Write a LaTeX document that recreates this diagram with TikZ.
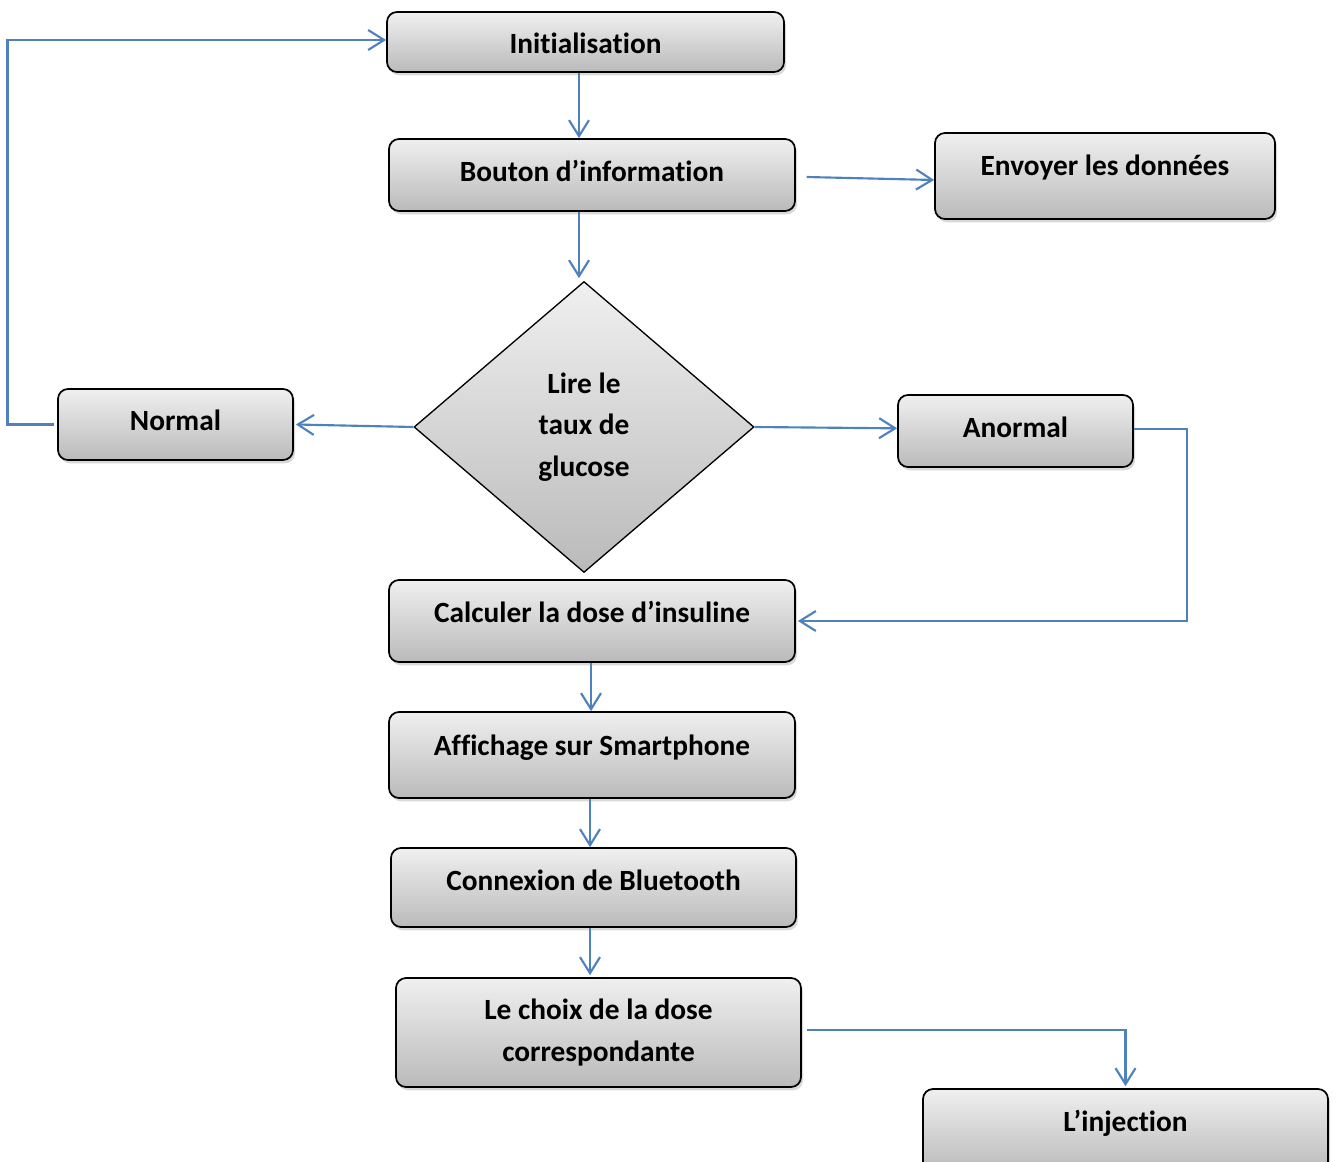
\documentclass[tikz,border=0pt]{standalone}
\usepackage{fontspec}
\setmainfont[Ligatures=NoCommon]{Carlito}
\usetikzlibrary{shapes.geometric,arrows.meta,shadows}
\definecolor{lineblue}{HTML}{4F81BD}
\tikzset{
  box/.style={draw=black, line width=1.3pt, rounded corners=7.5pt,
    top color=black!6, bottom color=black!27,
    drop shadow={shadow xshift=1.5pt, shadow yshift=-2.5pt, opacity=0.3},
    font=\bfseries\fontsize{22}{31}\selectfont, inner sep=0pt,
    text height=18pt, text depth=4.2pt},
  mbox/.style={box, text height=, text depth=, align=center},
  dec/.style={draw=black, line width=1pt, shape=diamond,
    top color=black!6, bottom color=black!27, inner sep=0pt, align=center,
    font=\bfseries\fontsize{22}{31}\selectfont},
  link/.style={draw=lineblue, line width=1.6pt},
  arr/.style={link, -{Straight Barb[length=12pt,width=15pt,line width=1.6pt]}},
}
\begin{document}
\begin{tikzpicture}[x=0.75pt,y=-0.75pt]
\useasboundingbox (0,0) rectangle (1337,1162);

\node[box, minimum width=397*0.75pt, minimum height=60*0.75pt, text depth=1pt] (init) at (585.5,42) {Initialisation};
\node[box, minimum width=406*0.75pt, minimum height=72*0.75pt, text depth=8pt] (bouton) at (592,175) {Bouton d’information};
\node[box, minimum width=340*0.75pt, minimum height=86*0.75pt, text depth=19.2pt] (envoyer) at (1105,176) {Envoyer les données};
\node[dec, minimum width=340*0.75pt, minimum height=291*0.75pt] (lire) at (584,427) {Lire le\\taux de\\glucose};
\node[box, minimum width=235*0.75pt, minimum height=71*0.75pt, text depth=8.7pt] (normal) at (175.5,424.5) {Normal};
\node[box, minimum width=235*0.75pt, minimum height=72*0.75pt, text depth=8.7pt] (anormal) at (1015.5,431) {Anormal};
\node[box, minimum width=406*0.75pt, minimum height=82*0.75pt, text depth=16.2pt] (calc) at (592,621) {Calculer la dose d’insuline};
\node[box, minimum width=406*0.75pt, minimum height=86*0.75pt, text depth=17.7pt] (aff) at (592,755) {Affichage sur Smartphone};
\node[box, minimum width=405*0.75pt, minimum height=79*0.75pt, text depth=13.2pt] (conn) at (593.5,887.5) {Connexion de Bluetooth};
\node[mbox, minimum width=405*0.75pt, minimum height=109*0.75pt] (choix) at (598.5,1032.5) {Le choix de la dose\\correspondante};
\node[box, minimum width=405*0.75pt, minimum height=83*0.75pt, text depth=16.2pt] (inj) at (1125.5,1130.5) {L’injection};

\draw[arr] (init.south -| 579,0) -- (bouton.north -| 579,0);
\draw[arr] (bouton.south -| 579,0) -- ([yshift=2pt]lire.north -| 579,0);
\draw[arr] ([xshift=8pt,yshift=-1.5pt]bouton.east) -- ([yshift=-3pt]envoyer.west);
\draw[arr] (lire.west) -- ([xshift=1.5pt]normal.east);
\draw[arr] (lire.east) -- ([yshift=2pt]anormal.west);
\draw[arr] ([yshift=1.5pt]anormal.east) -- ++(53,0) |- ([xshift=1.5pt]calc.east);
\draw[arr] ([xshift=-2pt]normal.west) -- ++(-47,0) |- ([yshift=1.5pt]init.west);
\draw[arr] (calc.south -| 591,0) -- (aff.north -| 591,0);
\draw[arr] (aff.south -| 590,0) -- (conn.north -| 590,0);
\draw[arr] (conn.south -| 590,0) -- ([yshift=1.5pt]choix.north -| 590,0);
\draw[arr] ([xshift=4pt,yshift=2pt]choix.east) -| ([yshift=1.5pt]inj.north);
\end{tikzpicture}
\end{document}
